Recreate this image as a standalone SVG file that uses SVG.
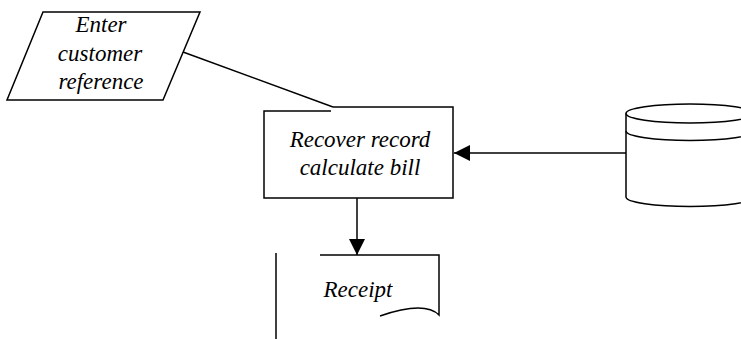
<svg xmlns="http://www.w3.org/2000/svg" width="741" height="339" viewBox="0 0 741 339">
  <defs>
    <marker id="arrow" viewBox="0 0 10 10" refX="10" refY="5" markerWidth="10" markerHeight="10" markerUnits="userSpaceOnUse" orient="auto">
      <path d="M0,0 L10,5 L0,10 Z" fill="#000"/>
    </marker>
    <marker id="arrowBig" viewBox="0 0 16 16" refX="16" refY="8" markerWidth="16" markerHeight="16" markerUnits="userSpaceOnUse" orient="auto">
      <path d="M0,0 L16,8 L0,16 Z" fill="#000"/>
    </marker>
  </defs>
  <style>
    .shape { fill: none; stroke: #000; stroke-width: 1.5; }
    .conn { fill: none; stroke: #000; stroke-width: 1.5; }
    .label { font-family: "Liberation Serif", serif; font-style: italic; font-size: 23px; fill: #000; text-anchor: middle; }
  </style>
  <rect width="741" height="339" fill="#fff"/>

  <!-- input: customer reference -->
  <g id="input">
    <polygon class="shape" points="43,12 200,12 163,100 7,100"/>
    <text class="label" x="101" y="32">Enter</text>
    <text class="label" x="100" y="61">customer</text>
    <text class="label" x="101" y="89">reference</text>
  </g>

  <!-- process: recover record / calculate bill -->
  <g id="process">
    <polyline class="shape" points="333,107 453,107 453,198 264,198 264,111 331,111"/>
    <text class="label" x="360" y="147">Recover record</text>
    <text class="label" x="360" y="175">calculate bill</text>
  </g>

  <!-- stored data -->
  <g id="store">
    <path class="shape" d="M626,113.5 A64,9.5 0 0 1 754,113.5 A64,9.5 0 0 1 626,113.5 Z"/>
    <path class="shape" d="M626,131 A64,9.5 0 0 0 754,131"/>
    <path class="shape" d="M626,113.5 L626,197 A64,9.5 0 0 0 754,197 L754,113.5"/>
  </g>

  <!-- output document: receipt -->
  <g id="receipt">
    <line class="shape" x1="276" y1="253" x2="276" y2="339"/>
    <path class="shape" d="M320,255 L439,255 L439,315 C430,306 412,305 380,316"/>
    <text class="label" x="358" y="297">Receipt</text>
  </g>

  <!-- connectors -->
  <g id="connectors">
    <line class="conn" x1="183" y1="52" x2="333" y2="107"/>
    <line class="conn" x1="626" y1="153" x2="454" y2="153" marker-end="url(#arrowBig)"/>
    <line class="conn" x1="357" y1="198" x2="357" y2="255" marker-end="url(#arrowBig)"/>
  </g>
</svg>
